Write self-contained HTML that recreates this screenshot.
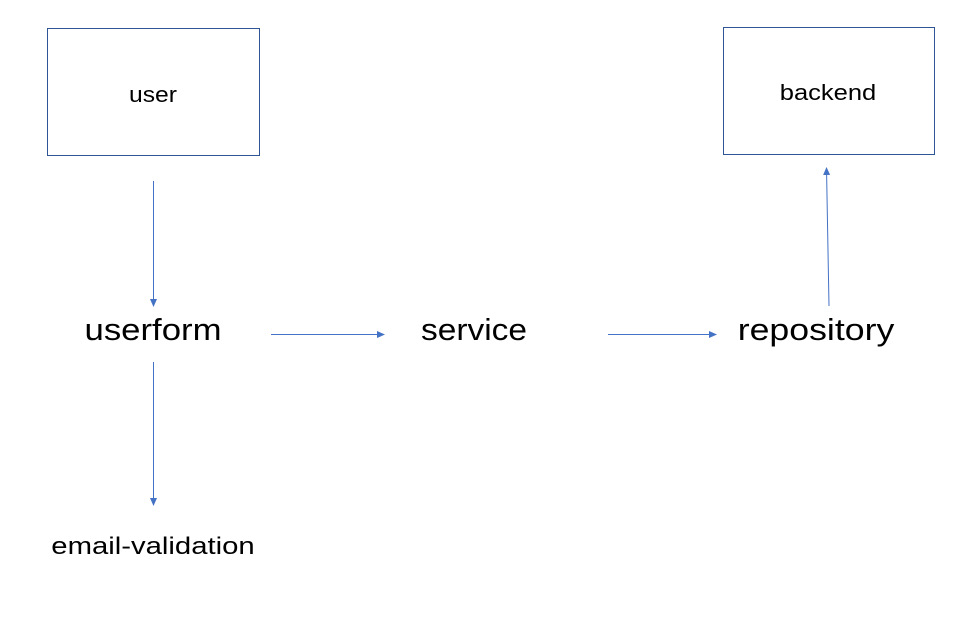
<!DOCTYPE html>
<html><head><meta charset="utf-8"><style>
html,body{margin:0;padding:0;background:#fff;}
body{width:970px;height:622px;position:relative;overflow:hidden;font-family:"Liberation Sans","DejaVu Sans",sans-serif;color:#000;}
.t{position:absolute;white-space:nowrap;}
</style></head><body>
<svg width="970" height="622" style="position:absolute;left:0;top:0">
<defs><marker id="a" markerWidth="8" markerHeight="8" refX="7" refY="4" orient="auto" markerUnits="userSpaceOnUse"><path d="M0,0.5 L8,4 L0,7.5 z" fill="#4472c4"/></marker></defs>
<rect x="47.5" y="28.5" width="212" height="127" fill="none" stroke="#2f5597" stroke-width="1"/>
<rect x="723.5" y="27.5" width="211" height="127" fill="none" stroke="#2f5597" stroke-width="1"/>
<g stroke="#4472c4" stroke-width="1" fill="none">
<line x1="153.5" y1="181" x2="153.5" y2="306" marker-end="url(#a)"/>
<line x1="153.5" y1="362" x2="153.5" y2="505" marker-end="url(#a)"/>
<line x1="271" y1="334.5" x2="384" y2="334.5" marker-end="url(#a)"/>
<line x1="608" y1="334.5" x2="716" y2="334.5" marker-end="url(#a)"/>
<line x1="829" y1="306" x2="826.5" y2="168" marker-end="url(#a)"/>
</g>
</svg>
<div class="t" style="left:153px;top:95px;font-size:22px;transform:translate(-50%,-50%) scaleX(1.12)">user</div>
<div class="t" style="left:828px;top:93px;font-size:22px;transform:translate(-50%,-50%) scaleX(1.16)">backend</div>
<div class="t" style="left:153px;top:330px;font-size:31px;transform:translate(-50%,-50%) scaleX(1.12)">userform</div>
<div class="t" style="left:474px;top:330px;font-size:31px;transform:translate(-50%,-50%) scaleX(1.08)">service</div>
<div class="t" style="left:816px;top:330px;font-size:31px;transform:translate(-50%,-50%) scaleX(1.15)">repository</div>
<div class="t" style="left:153px;top:547px;font-size:24px;transform:translate(-50%,-50%) scaleX(1.22)">email-validation</div>
</body></html>
